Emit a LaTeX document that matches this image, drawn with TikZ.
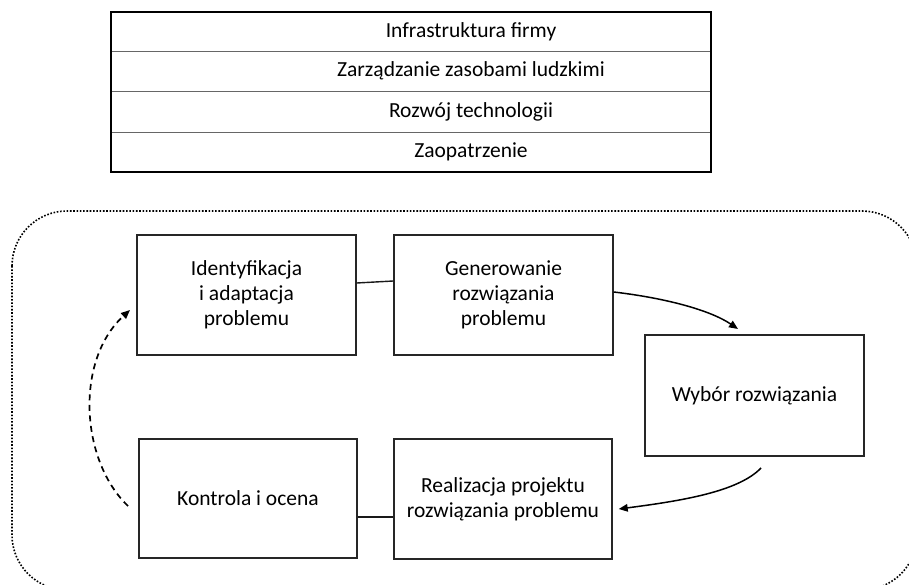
\documentclass[tikz,border=0pt]{standalone}
\usepackage{fontspec}
\setmainfont{Carlito}
\usetikzlibrary{arrows.meta}
\tikzset{
  stepbox/.style={draw=black!85, line width=1.4pt, minimum width=219pt, minimum height=120pt,
    align=center, inner sep=0pt, font=\fontsize{21.5}{25}\selectfont},
  rowtext/.style={inner sep=0pt, font=\fontsize{21.5}{25}\selectfont},
  link/.style={line width=1.4pt, black!90},
  flow/.style={line width=1.5pt, -{Triangle[length=9pt,width=7.5pt]}},
  back/.style={flow, dash pattern=on 6pt off 4.5pt, line width=1.7pt},
}
\begin{document}
\begin{tikzpicture}[x=1pt, y=-1pt]
\useasboundingbox (0,0) rectangle (909,585);
\fill[white] (0,0) rectangle (909,585);

% support activities table
\draw[black!60, line width=0.8pt] (111,51) -- (711,51) (111,91.5) -- (711,91.5) (111,132) -- (711,132);
\draw[line width=2.2pt] (111,12) rectangle (711,172);
\node[rowtext] (r1) at (471,31.5) {Infrastruktura firmy};
\node[rowtext] (r2) at (471,71) {Zarządzanie zasobami ludzkimi};
\node[rowtext] (r3) at (471,111.5) {Rozwój technologii};
\node[rowtext] (r4) at (471,152) {Zaopatrzenie};

% dotted frame around the process
\begin{scope}
\clip (0,0) rectangle (909,585);
\draw[line width=1.6pt, dash pattern=on 1.6pt off 1.7pt, rounded corners=55pt] (12,211) rectangle (917,590);
\end{scope}

% process steps
\node[stepbox] (ident) at (246.5,295) {Identyfikacja\\i adaptacja\\problemu};
\node[stepbox] (gen) at (503.5,295) {Generowanie\\rozwiązania\\problemu};
\node[stepbox, minimum height=121pt] (wyb) at (754.5,395.5) {Wybór rozwiązania};
\node[stepbox, minimum width=218pt] (real) at (503,499) {Realizacja projektu\\rozwiązania problemu};
\node[stepbox, minimum width=218pt, minimum height=119pt] (kon) at (248,498.5) {Kontrola i ocena};

% connectors
\draw[link] ([yshift=12pt]ident.east) -- ([yshift=14pt]gen.west);
\draw[link] ([yshift=-18.5pt]kon.east) -- ([yshift=-18pt]real.west);

\coordinate (a1s) at ([yshift=3pt]gen.east);
\coordinate (a1e) at (738,329);
\draw[flow] (a1s) .. controls (665,298) and (710,310) .. (a1e);

\coordinate (a2s) at (761,468);
\coordinate (a2e) at ([xshift=6pt,yshift=-10pt]real.east);
\draw[flow] (a2s) .. controls (738,492) and (680,501) .. (a2e);

\coordinate (a3s) at (128,506);
\coordinate (a3e) at (130,310);
\draw[back] (a3s) .. controls (80,460) and (75,360) .. (a3e);
\end{tikzpicture}
\end{document}
